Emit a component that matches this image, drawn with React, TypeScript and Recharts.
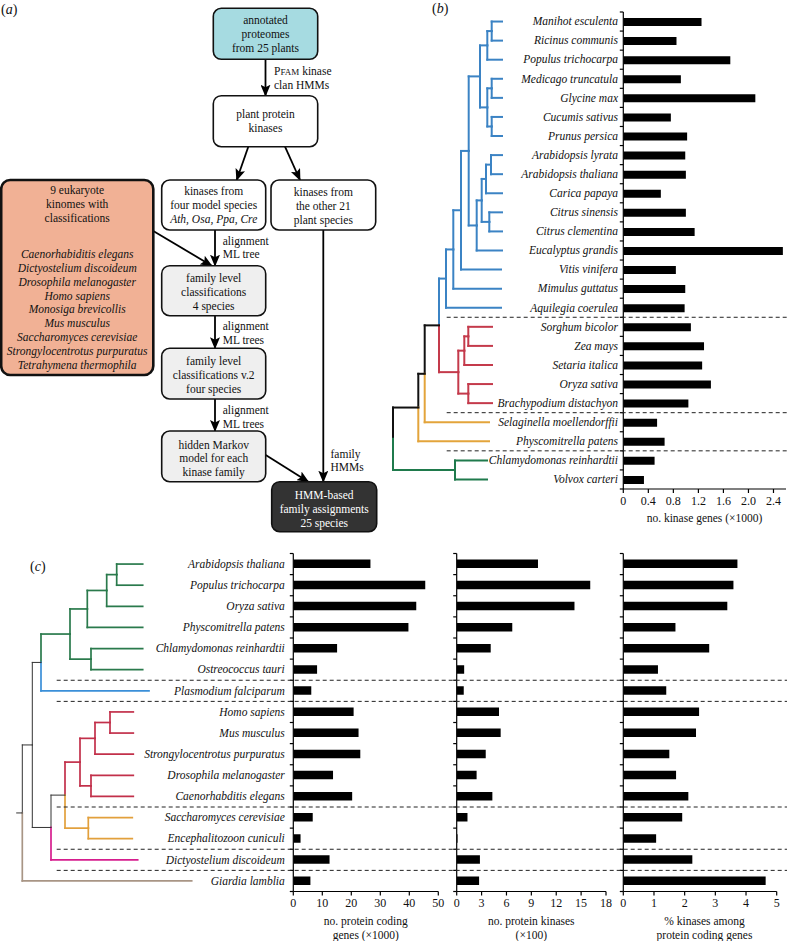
import React from 'react';
import { BarChart, Bar, XAxis, YAxis } from 'recharts';

const SERIF = '"Liberation Serif", "Times New Roman", Times, serif';
const FS = 11.5;

// ---------------- Panel (b) data ----------------
const plantSpecies = [
  'Manihot esculenta', 'Ricinus communis', 'Populus trichocarpa', 'Medicago truncatula',
  'Glycine max', 'Cucumis sativus', 'Prunus persica', 'Arabidopsis lyrata',
  'Arabidopsis thaliana', 'Carica papaya', 'Citrus sinensis', 'Citrus clementina',
  'Eucalyptus grandis', 'Vitis vinifera', 'Mimulus guttatus', 'Aquilegia coerulea',
  'Sorghum bicolor', 'Zea mays', 'Setaria italica', 'Oryza sativa',
  'Brachypodium distachyon', 'Selaginella moellendorffii', 'Physcomitrella patens',
  'Chlamydomonas reinhardtii', 'Volvox carteri',
];
const plantKinaseGenes = [
  1.25, 0.85, 1.71, 0.92, 2.11, 0.76, 1.02, 0.99, 1.0, 0.6, 1.0, 1.14, 2.55,
  0.84, 0.99, 0.98, 1.08, 1.29, 1.26, 1.4, 1.04, 0.54, 0.66, 0.5, 0.33,
];
const plantTicks = [0, 0.4, 0.8, 1.2, 1.6, 2.0, 2.4];
const plantGroupStarts = [16, 21, 23];

// ---------------- Panel (c) data ----------------
const eukSpecies = [
  'Arabidopsis thaliana', 'Populus trichocarpa', 'Oryza sativa', 'Physcomitrella patens',
  'Chlamydomonas reinhardtii', 'Ostreococcus tauri', 'Plasmodium falciparum', 'Homo sapiens',
  'Mus musculus', 'Strongylocentrotus purpuratus', 'Drosophila melanogaster',
  'Caenorhabditis elegans', 'Saccharomyces cerevisiae', 'Encephalitozoon cuniculi',
  'Dictyostelium discoideum', 'Giardia lamblia',
];
const codingGenes = [26.6, 45.5, 42.4, 39.7, 15.1, 8.2, 6.2, 20.8, 22.5, 23.1, 13.7, 20.3, 6.7, 2.5, 12.5, 5.9];
const proteinKinases = [9.8, 16.1, 14.2, 6.7, 4.1, 0.9, 0.85, 5.1, 5.3, 3.5, 2.4, 4.3, 1.3, 0.1, 2.8, 2.7];
const kinasePercent = [3.72, 3.59, 3.39, 1.7, 2.8, 1.13, 1.4, 2.47, 2.37, 1.5, 1.72, 2.12, 1.92, 1.07, 2.25, 4.64];
const codingTicks = [0, 10, 20, 30, 40, 50];
const kinaseTicks = [0, 3, 6, 9, 12, 15, 18];
const percentTicks = [0, 1, 2, 3, 4, 5];
const eukGroupStarts = [6, 7, 12, 14, 15];

// ---------------- Geometry ----------------
const B_TOP = 12;
const B_BOTTOM = 489;
const B_LEFT = 623.3;
const B_RIGHT = 786;
const C_TOP = 553.5;
const C_BOTTOM = 891.5;
const bBand = (B_BOTTOM - B_TOP) / plantSpecies.length;
const cBand = (C_BOTTOM - C_TOP) / eukSpecies.length;
const bRowY = (i: number) => B_TOP + (i + 0.5) * bBand;
const cRowY = (i: number) => C_TOP + (i + 0.5) * cBand;

type Row = { name: string; v: number };

function makeTick(band: number, lastName: string, showLabel: boolean, gap: number) {
  return (props: any) => {
    const { x, y, payload } = props;
    const yb = y - band / 2;
    return (
      <g>
        <line x1={x - 3.5} x2={x} y1={yb} y2={yb} stroke="#000" strokeWidth={1.2} />
        {payload.value === lastName && (
          <line x1={x - 3.5} x2={x} y1={y + band / 2} y2={y + band / 2} stroke="#000" strokeWidth={1.2} />
        )}
        {showLabel && (
          <text x={x - gap} y={y} dy="0.33em" textAnchor="end" fontStyle="italic" fontSize={FS} fontFamily={SERIF} fill="#111">
            {payload.value}
          </text>
        )}
      </g>
    );
  };
}

function HBar(p: {
  left: number; top: number; width: number; height: number;
  plotLeft: number; plotRight: number; plotTop: number; plotBottom: number;
  data: Row[]; domain: [number, number]; ticks: number[]; fmt: (v: number) => string;
  band: number; showLabels: boolean; gap: number; barSize: number;
}) {
  const mt = p.plotTop - p.top;
  const mr = p.left + p.width - p.plotRight;
  const yw = p.plotLeft - p.left;
  const xh = p.top + p.height - p.plotBottom;
  const lastName = p.data[p.data.length - 1].name;
  return (
    <div style={{ position: 'absolute', left: p.left, top: p.top }}>
      <BarChart width={p.width} height={p.height} data={p.data} layout="vertical"
        margin={{ top: mt, right: mr, bottom: 0, left: 0 }} barCategoryGap={0}>
        <XAxis type="number" domain={p.domain} ticks={p.ticks} tickFormatter={p.fmt} interval={0}
          height={xh} axisLine={{ stroke: '#000', strokeWidth: 1.2 }} tickLine={{ stroke: '#000', strokeWidth: 1.2 }}
          tickSize={4} tickMargin={3} allowDataOverflow
          tick={{ fill: '#111', fontSize: FS + 0.5, fontFamily: SERIF }} />
        <YAxis type="category" dataKey="name" width={yw} interval={0} tickSize={0} tickMargin={0}
          tickLine={false} axisLine={{ stroke: '#000', strokeWidth: 1.2 }}
          tick={makeTick(p.band, lastName, p.showLabels, p.gap)} />
        <Bar dataKey="v" fill="#000" barSize={p.barSize} isAnimationActive={false} />
      </BarChart>
    </div>
  );
}

// ---------------- Trees ----------------
type TNode = { d: number; c: string; k?: TNode[]; i?: number; w?: number };
const L = (i: number, d: number, c: string): TNode => ({ i, d, c });
const N = (d: number, c: string, ...k: TNode[]): TNode => ({ d, c, k });
type Seg = { x1: number; y1: number; x2: number; y2: number; c: string };

function layoutTree(node: TNode, rowY: (i: number) => number, segs: Seg[]): number {
  if (node.i !== undefined) return rowY(node.i);
  const ys = (node.k || []).map((ch) => layoutTree(ch, rowY, segs));
  const y = (Math.min(...ys) + Math.max(...ys)) / 2;
  (node.k || []).forEach((ch, j) => {
    segs.push({ x1: node.d, y1: y, x2: node.d, y2: ys[j], c: ch.c });
    segs.push({ x1: node.d, y1: ys[j], x2: ch.d, y2: ys[j], c: ch.c });
  });
  return y;
}

const bBlue = '#3b83c4', bRed = '#c43a4b', bYel = '#e3a43b', bGrn = '#1f7a4c', bBlk = '#111';
const tb = 502, tr = 492, ty = 489, tg = 487;
const treeB: TNode = N(393, bBlk,
  N(418.3, bBlk,
    N(424.7, bBlk,
      N(439, bBlk,
        N(446, bBlue,
          N(453.3, bBlue,
            N(461, bBlue,
              N(468.7, bBlue,
                N(480, bBlue,
                  N(487.3, bBlue, N(491.7, bBlue, L(0, tb, bBlue), L(1, tb, bBlue)), L(2, tb, bBlue)),
                  N(487.3, bBlue, N(491.7, bBlue, L(3, tb, bBlue), L(4, tb, bBlue)), N(491.7, bBlue, L(5, tb, bBlue), L(6, tb, bBlue)))),
                N(476.7, bBlue,
                  N(481.7, bBlue,
                    N(486, bBlue, N(491, bBlue, L(7, tb, bBlue), L(8, tb, bBlue)), L(9, tb, bBlue)),
                    N(489.3, bBlue, L(10, tb, bBlue), L(11, tb, bBlue))),
                  L(12, tb, bBlue))),
              L(13, tb - 1, bBlue)),
            L(14, tb - 1, bBlue)),
          L(15, tb - 1, bBlue)),
        N(458.3, bRed,
          N(464.3, bRed, N(468.3, bRed, L(16, tr, bRed), L(17, tr, bRed)), L(18, tr, bRed)),
          N(468.3, bRed, L(19, tr, bRed), L(20, tr, bRed)))),
      L(21, ty, bYel)),
    L(22, ty, bYel)),
  N(455, bGrn, L(23, tg, bGrn), L(24, tg, bGrn)));

const cGrn = '#2a7a4c', cBlue = '#3a8fd8', cRed = '#c2304a', cYel = '#e2a03c', cMag = '#d61e8e', cBrn = '#a89585', cBlk = '#333';
const treeC: TNode = N(22.3, cBlk,
  N(32.3, cBlk,
    N(41, cBlk,
      N(70, cGrn,
        N(87.3, cGrn,
          N(106.7, cGrn, N(116.7, cGrn, L(0, 142.7, cGrn), L(1, 142.7, cGrn)), L(2, 142.7, cGrn)),
          L(3, 142.7, cGrn)),
        N(91, cGrn, L(4, 142.7, cGrn), L(5, 142.7, cGrn))),
      L(6, 149, cBlue)),
    N(51, cBlk,
      N(65, cBlk,
        N(80, cRed,
          N(95, cRed, N(110, cRed, L(7, 133.3, cRed), L(8, 133.3, cRed)), L(9, 133.3, cRed)),
          N(91, cRed, L(10, 133.3, cRed), L(11, 133.3, cRed))),
        N(88.3, cYel, L(12, 132.3, cYel), L(13, 132.3, cYel))),
      L(14, 137.7, cMag))),
  L(15, 191.7, cBrn));

function Tree({ root, rowY, width, blackWidth, stub }: { root: TNode; rowY: (i: number) => number; width: number; blackWidth: number; stub?: number }) {
  const segs: Seg[] = [];
  const y = layoutTree(root, rowY, segs);
  if (stub !== undefined) segs.push({ x1: stub, y1: y, x2: root.d, y2: y, c: root.c });
  return (
    <g>
      {segs.map((s, j) => (
        <line key={j} x1={s.x1} y1={s.y1} x2={s.x2} y2={s.y2} stroke={s.c}
          strokeWidth={s.c === cBlk || s.c === bBlk ? blackWidth : width} strokeLinecap="square" />
      ))}
    </g>
  );
}

// ---------------- Flowchart ----------------
type FLine = { t: React.ReactNode; it?: boolean };
type FBox = { x: number; y: number; w: number; h: number; fill: string; sw: number; color: string; lines: FLine[]; dy?: number };
const LS = 13.8;
const flowBoxes: FBox[] = [
  { x: 213.3, y: 8.3, w: 104.4, h: 51, fill: '#a6dbe1', sw: 1.6, color: '#111', lines: [{ t: 'annotated' }, { t: 'proteomes' }, { t: 'from 25 plants' }] },
  { x: 213.3, y: 95.7, w: 104.4, h: 51, fill: '#fff', sw: 1.6, color: '#111', lines: [{ t: 'plant protein' }, { t: 'kinases' }] },
  { x: 161.7, y: 180, w: 104, h: 50, fill: '#fff', sw: 1.6, color: '#111', lines: [{ t: 'kinases from' }, { t: 'four model species' }, { t: 'Ath, Osa, Ppa, Cre', it: true }] },
  { x: 271, y: 180, w: 104.7, h: 50, fill: '#fff', sw: 1.6, color: '#111', lines: [{ t: 'kinases from' }, { t: 'the other 21' }, { t: 'plant species' }], dy: 1 },
  { x: 161.7, y: 265.7, w: 104, h: 50, fill: '#efefef', sw: 1.6, color: '#111', lines: [{ t: 'family level' }, { t: 'classifications' }, { t: '4 species' }], dy: 1 },
  { x: 161.7, y: 348.3, w: 104, h: 50.7, fill: '#efefef', sw: 1.6, color: '#111', lines: [{ t: 'family level' }, { t: 'classifications v.2' }, { t: 'four species' }], dy: 1.5 },
  { x: 161.7, y: 431, w: 104, h: 50.7, fill: '#efefef', sw: 1.6, color: '#111', lines: [{ t: 'hidden Markov' }, { t: 'model for each' }, { t: 'kinase family' }], dy: 2 },
  { x: 271.7, y: 481.7, w: 105, h: 50, fill: '#333', sw: 1.6, color: '#fff', lines: [{ t: 'HMM-based' }, { t: 'family assignments' }, { t: '25 species' }], dy: 2 },
];
const kinomeHeader = ['9 eukaryote', 'kinomes with', 'classifications'];
const kinomeSpecies = [
  'Caenorhabiditis elegans', 'Dictyostelium discoideum', 'Drosophila melanogaster', 'Homo sapiens',
  'Monosiga brevicollis', 'Mus musculus', 'Saccharomyces cerevisiae', 'Strongylocentrotus purpuratus',
  'Tetrahymena thermophila',
];
const flowArrows: [number, number, number, number][] = [
  [265.5, 59.3, 265.5, 95.7],
  [248.3, 146.7, 236.7, 180],
  [285, 146.7, 300, 180],
  [153.3, 231, 211.7, 265.7],
  [215, 230, 215, 265.7],
  [215, 315.7, 215, 348.3],
  [215, 399, 215, 431],
  [265.7, 455, 308.3, 481.7],
  [323.3, 230, 323.3, 481.7],
];
const flowLabels: { x: number; y: number; t: React.ReactNode }[] = [
  { x: 274, y: 70.7, t: <>P<tspan fontSize={9}>FAM</tspan> kinase</> },
  { x: 274, y: 84.7, t: 'clan HMMs' },
  { x: 222.7, y: 240.7, t: 'alignment' },
  { x: 222.7, y: 254.3, t: 'ML tree' },
  { x: 222.7, y: 325.8, t: 'alignment' },
  { x: 222.7, y: 340, t: 'ML trees' },
  { x: 222.7, y: 409.8, t: 'alignment' },
  { x: 222.7, y: 423.8, t: 'ML trees' },
  { x: 330.5, y: 454, t: 'family' },
  { x: 330.5, y: 467, t: 'HMMs' },
];

function Flowchart() {
  return (
    <g fontSize={FS} fill="#111">
      <defs>
        <marker id="ah" viewBox="0 0 12 10" refX="11" refY="5" markerWidth="12" markerHeight="10"
          markerUnits="userSpaceOnUse" orient="auto">
          <path d="M0,0 L12,5 L0,10 L2.5,5 Z" fill="#000" />
        </marker>
      </defs>
      {flowArrows.map((a, j) => (
        <line key={j} x1={a[0]} y1={a[1]} x2={a[2]} y2={a[3]} stroke="#000" strokeWidth={1.8} markerEnd="url(#ah)" />
      ))}
      <rect x={1.2} y={180} width={152.1} height={195} rx={9} ry={9} fill="#f1b195" stroke="#111" strokeWidth={2.6} />
      {kinomeHeader.map((t, j) => (
        <text key={'h' + j} x={77.2} y={190 + j * 14 + 4} textAnchor="middle">{t}</text>
      ))}
      {kinomeSpecies.map((t, j) => (
        <text key={'s' + j} x={77.2} y={253.8 + j * 13.9 + 4} textAnchor="middle" fontStyle="italic">{t}</text>
      ))}
      {flowBoxes.map((b, j) => {
        const cx = b.x + b.w / 2;
        const cy = b.y + b.h / 2 + (b.dy || 0);
        const n = b.lines.length;
        return (
          <g key={j}>
            <rect x={b.x} y={b.y} width={b.w} height={b.h} rx={8} ry={8} fill={b.fill} stroke="#111" strokeWidth={b.sw} />
            {b.lines.map((l, k) => (
              <text key={k} x={cx} y={cy + (k - (n - 1) / 2) * LS + 4} textAnchor="middle"
                fontStyle={l.it ? 'italic' : 'normal'} fill={b.color}>{l.t}</text>
            ))}
          </g>
        );
      })}
      {flowLabels.map((l, j) => (
        <text key={'l' + j} x={l.x} y={l.y + 4}>{l.t}</text>
      ))}
    </g>
  );
}

function PanelLabel({ x, y, letter }: { x: number; y: number; letter: string }) {
  return (
    <text x={x} y={y + 4.5} fontSize={14} fill="#111">(<tspan fontStyle="italic">{letter}</tspan>)</text>
  );
}

export default function App() {
  const bData: Row[] = plantSpecies.map((name, i) => ({ name, v: plantKinaseGenes[i] }));
  const c1: Row[] = eukSpecies.map((name, i) => ({ name, v: codingGenes[i] }));
  const c2: Row[] = eukSpecies.map((name, i) => ({ name, v: proteinKinases[i] }));
  const c3: Row[] = eukSpecies.map((name, i) => ({ name, v: kinasePercent[i] }));
  const fmtB = (v: number) => (v === 0 ? '0' : v.toFixed(1));
  const fmtN = (v: number) => String(v);

  return (
    <div style={{ position: 'absolute', left: 0, top: 0, width: 787, height: 941, background: '#fff', fontFamily: SERIF, overflow: 'hidden' }}>
      <HBar left={400} top={0} width={387} height={541} plotLeft={B_LEFT} plotRight={B_RIGHT} plotTop={B_TOP} plotBottom={B_BOTTOM}
        data={bData} domain={[0, 2.6]} ticks={plantTicks} fmt={fmtB} band={bBand} showLabels gap={5.3} barSize={8} />
      <HBar left={0} top={540} width={450} height={401} plotLeft={293.3} plotRight={438.3} plotTop={C_TOP} plotBottom={C_BOTTOM}
        data={c1} domain={[0, 50]} ticks={codingTicks} fmt={fmtN} band={cBand} showLabels gap={8.5} barSize={8.5} />
      <HBar left={440} top={540} width={180} height={401} plotLeft={456.7} plotRight={606} plotTop={C_TOP} plotBottom={C_BOTTOM}
        data={c2} domain={[0, 18]} ticks={kinaseTicks} fmt={fmtN} band={cBand} showLabels={false} gap={0} barSize={8.5} />
      <HBar left={610} top={540} width={177} height={401} plotLeft={623.3} plotRight={776.7} plotTop={C_TOP} plotBottom={C_BOTTOM}
        data={c3} domain={[0, 5]} ticks={percentTicks} fmt={fmtN} band={cBand} showLabels={false} gap={0} barSize={8.5} />
      <svg width={787} height={941} style={{ position: 'absolute', left: 0, top: 0, pointerEvents: 'none' }} fontFamily={SERIF}>
        <PanelLabel x={1} y={9} letter="a" />
        <PanelLabel x={432} y={8.5} letter="b" />
        <PanelLabel x={30} y={566.5} letter="c" />
        <Flowchart />
        <Tree root={treeB} rowY={bRowY} width={2} blackWidth={2} />
        <Tree root={treeC} rowY={cRowY} width={1.7} blackWidth={1} stub={16.7} />
        {plantGroupStarts.map((g) => {
          const y = B_TOP + g * bBand;
          return <line key={'bd' + g} x1={446.7} x2={787} y1={y} y2={y} stroke="#222" strokeWidth={1} strokeDasharray="4 3" />;
        })}
        {eukGroupStarts.map((g) => {
          const y = C_TOP + g * cBand;
          return <line key={'cd' + g} x1={56.7} x2={787} y1={y} y2={y} stroke="#222" strokeWidth={1} strokeDasharray="4 3" />;
        })}
        <g fontSize={FS} fill="#111" textAnchor="middle">
          <text x={704.5} y={522}>no. kinase genes (×1000)</text>
          <text x={365.8} y={925}>no. protein coding</text>
          <text x={365.8} y={939}>genes (×1000)</text>
          <text x={531.3} y={925}>no. protein kinases</text>
          <text x={531.3} y={939}>(×100)</text>
          <text x={704.5} y={925}>%  kinases among</text>
          <text x={704.5} y={939}>protein coding genes</text>
        </g>
      </svg>
    </div>
  );
}
